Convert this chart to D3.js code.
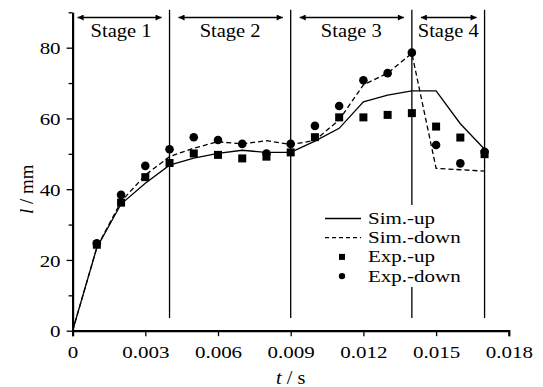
<!DOCTYPE html>
<html>
<head>
<meta charset="utf-8">
<script src="https://cdn.jsdelivr.net/npm/d3@7"></script>
<style>
  body { margin: 0; background: #fff; }
  svg { display: block; font-family: "Times New Roman", "Liberation Serif", Times, serif; }
  svg text { font-family: "Times New Roman", "Liberation Serif", Times, serif; }
</style>
</head>
<body>
<div id="chart"></div>
<script>
const width = 543;
const height = 387;

// data
const simT = [0, 0.001, 0.002, 0.003, 0.004, 0.005, 0.006, 0.007, 0.008, 0.009,
              0.010, 0.011, 0.012, 0.013, 0.014, 0.015, 0.016, 0.017];
const simUp = [0, 23.5, 35.8, 41.7, 46.8, 48.8, 50.1, 51.0, 50.4, 50.4,
               53.6, 57.2, 64.7, 66.6, 67.8, 67.8, 58.5, 51.3];
const simDown = [0, 23.5, 36.5, 44.0, 49.2, 51.6, 53.4, 52.8, 53.7, 52.6,
                 53.8, 59.6, 69.5, 72.8, 78.4, 45.9, 45.5, 45.1];

const expT = [0.001, 0.002, 0.003, 0.004, 0.005, 0.006, 0.007, 0.008, 0.009,
              0.010, 0.011, 0.012, 0.013, 0.014, 0.015, 0.016, 0.017];
const expUp = [24.3, 36.2, 43.4, 47.4, 50.1, 49.7, 48.7, 49.2, 50.4,
               54.7, 60.3, 60.3, 61.0, 61.5, 57.7, 54.6, 49.9];
const expDown = [24.7, 38.4, 46.6, 51.3, 54.7, 53.9, 52.8, 50.1, 52.8,
                 57.9, 63.5, 70.8, 72.8, 78.6, 52.5, 47.3, 50.6];

const stageBounds = [0, 0.004, 0.009, 0.014, 0.017];
const stageNames = ['Stage 1', 'Stage 2', 'Stage 3', 'Stage 4'];

const xTicks = [0, 0.003, 0.006, 0.009, 0.012, 0.015, 0.018];
const yTicks = [0, 20, 40, 60, 80];

const legendItems = ['Sim.-up', 'Sim.-down', 'Exp.-up', 'Exp.-down'];

const stretch = 'scale(1.2,1)';

const svg = d3.select('#chart')
    .append('svg')
    .attr('width', width)
    .attr('height', height)

const x = d3.scaleLinear().domain([0, 0.018]).range([72.6, 508.8])
const y = d3.scaleLinear().domain([0, 90]).range([330.7, 12.3])

// stage divider lines
svg.append('g')
    .selectAll('line')
    .data(stageBounds.slice(1))
    .enter()
    .append('line')
    .attr('x1', (d) => x(d))
    .attr('x2', (d) => x(d))
    .attr('y1', y(90.7))
    .attr('y2', y(3.6))
    .attr('stroke', '#000')
    .attr('stroke-width', 1.3)

// stage arrows
svg.append('defs')
    .append('marker')
    .attr('id', 'arrow')
    .attr('viewBox', '0 0 10 10')
    .attr('refX', 10)
    .attr('refY', 5)
    .attr('markerWidth', 8)
    .attr('markerHeight', 6)
    .attr('markerUnits', 'userSpaceOnUse')
    .attr('orient', 'auto-start-reverse')
    .append('path')
    .attr('d', 'M0,0L10,5L0,10z')
    .attr('fill', '#000')

const stages = stageNames.map((name, i) => ({
    name: name,
    a: stageBounds[i],
    b: stageBounds[i + 1]
}))

const stageG = svg.append('g')
    .selectAll('g')
    .data(stages)
    .enter()
    .append('g')

stageG.append('line')
    .attr('x1', (d, i) => x(d.a) + (i === 0 ? 5 : 9))
    .attr('x2', (d) => x(d.b) - 8)
    .attr('y1', 17.5)
    .attr('y2', 17.5)
    .attr('stroke', '#000')
    .attr('stroke-width', 1.3)
    .attr('marker-start', 'url(#arrow)')
    .attr('marker-end', 'url(#arrow)')

stageG.append('text')
    .attr('transform', (d) => 'translate(' + (x(d.a) + x(d.b)) / 2 + ',37) scale(1.08,1)')
    .attr('text-anchor', 'middle')
    .attr('font-size', 19)
    .text((d) => d.name)

// simulation lines
const line = d3.line()
    .x((d) => x(d[0]))
    .y((d) => y(d[1]))

svg.append('path')
    .datum(simT.map((t, i) => [t, simUp[i]]))
    .attr('d', line)
    .attr('fill', 'none')
    .attr('stroke', '#000')
    .attr('stroke-width', 1.3)

svg.append('path')
    .datum(simT.map((t, i) => [t, simDown[i]]))
    .attr('d', line)
    .attr('fill', 'none')
    .attr('stroke', '#000')
    .attr('stroke-width', 1.3)
    .attr('stroke-dasharray', '5,3')

// experiment markers
svg.append('g')
    .selectAll('rect')
    .data(expT.map((t, i) => [t, expUp[i]]))
    .enter()
    .append('rect')
    .attr('x', (d) => x(d[0]) - 4)
    .attr('y', (d) => y(d[1]) - 4)
    .attr('width', 8)
    .attr('height', 8)
    .attr('fill', '#000')

svg.append('g')
    .selectAll('circle')
    .data(expT.map((t, i) => [t, expDown[i]]))
    .enter()
    .append('circle')
    .attr('cx', (d) => x(d[0]))
    .attr('cy', (d) => y(d[1]))
    .attr('r', 4.3)
    .attr('fill', '#000')

// axes
const xAxis = svg.append('g')
    .attr('transform', 'translate(0,' + y(0) + ')')
    .call(d3.axisBottom(x).tickValues(d3.range(0, 0.0181, 0.0015)).tickSize(4).tickFormat(''))

xAxis.call(d3.axisBottom(x).tickValues(xTicks).tickSize(5.5).tickFormat((d) => d === 0 ? '0' : d3.format('.3f')(d)))

xAxis.attr('font-family', null)
xAxis.select('.domain').attr('stroke-width', 2.2)
xAxis.selectAll('line').attr('stroke-width', 1.3)
xAxis.selectAll('text')
    .attr('y', 27)
    .attr('dy', 0)
    .attr('transform', stretch)
    .attr('font-size', 17.5)
    .attr('fill', '#000')

const yMinor = svg.append('g')
    .attr('transform', 'translate(' + x(0) + ',0)')
    .call(d3.axisLeft(y).tickValues(d3.range(10, 91, 20)).tickSize(4).tickFormat(''))
yMinor.select('.domain').remove()
yMinor.selectAll('line').attr('stroke-width', 1.3)

const yAxis = svg.append('g')
    .attr('transform', 'translate(' + x(0) + ',0)')
    .call(d3.axisLeft(y).tickValues(yTicks).tickSize(6).tickSizeOuter(0))

yAxis.attr('font-family', null)
yAxis.select('.domain').attr('stroke-width', 2.2)
yAxis.selectAll('line').attr('stroke-width', 1.3)
yAxis.selectAll('text')
    .attr('x', -10)
    .attr('dy', '0.35em')
    .attr('transform', stretch)
    .attr('font-size', 17.5)
    .attr('fill', '#000')

// axis titles
const xTitle = svg.append('text')
    .attr('transform', 'translate(' + x(0.009) + ',384) scale(1.1,1)')
    .attr('text-anchor', 'middle')
    .attr('font-size', 18.5)
xTitle.append('tspan').attr('font-style', 'italic').text('t')
xTitle.append('tspan').text(' / s')

const yTitle = svg.append('text')
    .attr('transform', 'translate(33,' + y(40) + ') rotate(-90)')
    .attr('text-anchor', 'middle')
    .attr('font-size', 19)
yTitle.append('tspan').attr('font-style', 'italic').text('l')
yTitle.append('tspan').text(' / mm')

// legend
const legend = svg.append('g')

legend.append('rect')
    .attr('x', 318)
    .attr('y', 205)
    .attr('width', 130)
    .attr('height', 82)
    .attr('fill', '#fff')

const legendRow = legend.selectAll('g')
    .data(legendItems)
    .enter()
    .append('g')
    .attr('transform', (d, i) => 'translate(325,' + (218.5 + i * 19.2) + ')')

legendRow.filter((d, i) => i < 2)
    .append('line')
    .attr('x1', 0)
    .attr('x2', 36)
    .attr('stroke', '#000')
    .attr('stroke-width', 1.3)
    .attr('stroke-dasharray', (d, i) => i === 1 ? '4,3' : null)

legendRow.filter((d, i) => i === 2)
    .append('rect')
    .attr('x', 14)
    .attr('y', -3)
    .attr('width', 6)
    .attr('height', 6)
    .attr('fill', '#000')

legendRow.filter((d, i) => i === 3)
    .append('circle')
    .attr('cx', 17)
    .attr('r', 3.2)
    .attr('fill', '#000')

legendRow.append('text')
    .attr('transform', 'translate(43,5.5) ' + stretch)
    .attr('font-size', 17.5)
    .text((d) => d)
</script>
</body>
</html>
